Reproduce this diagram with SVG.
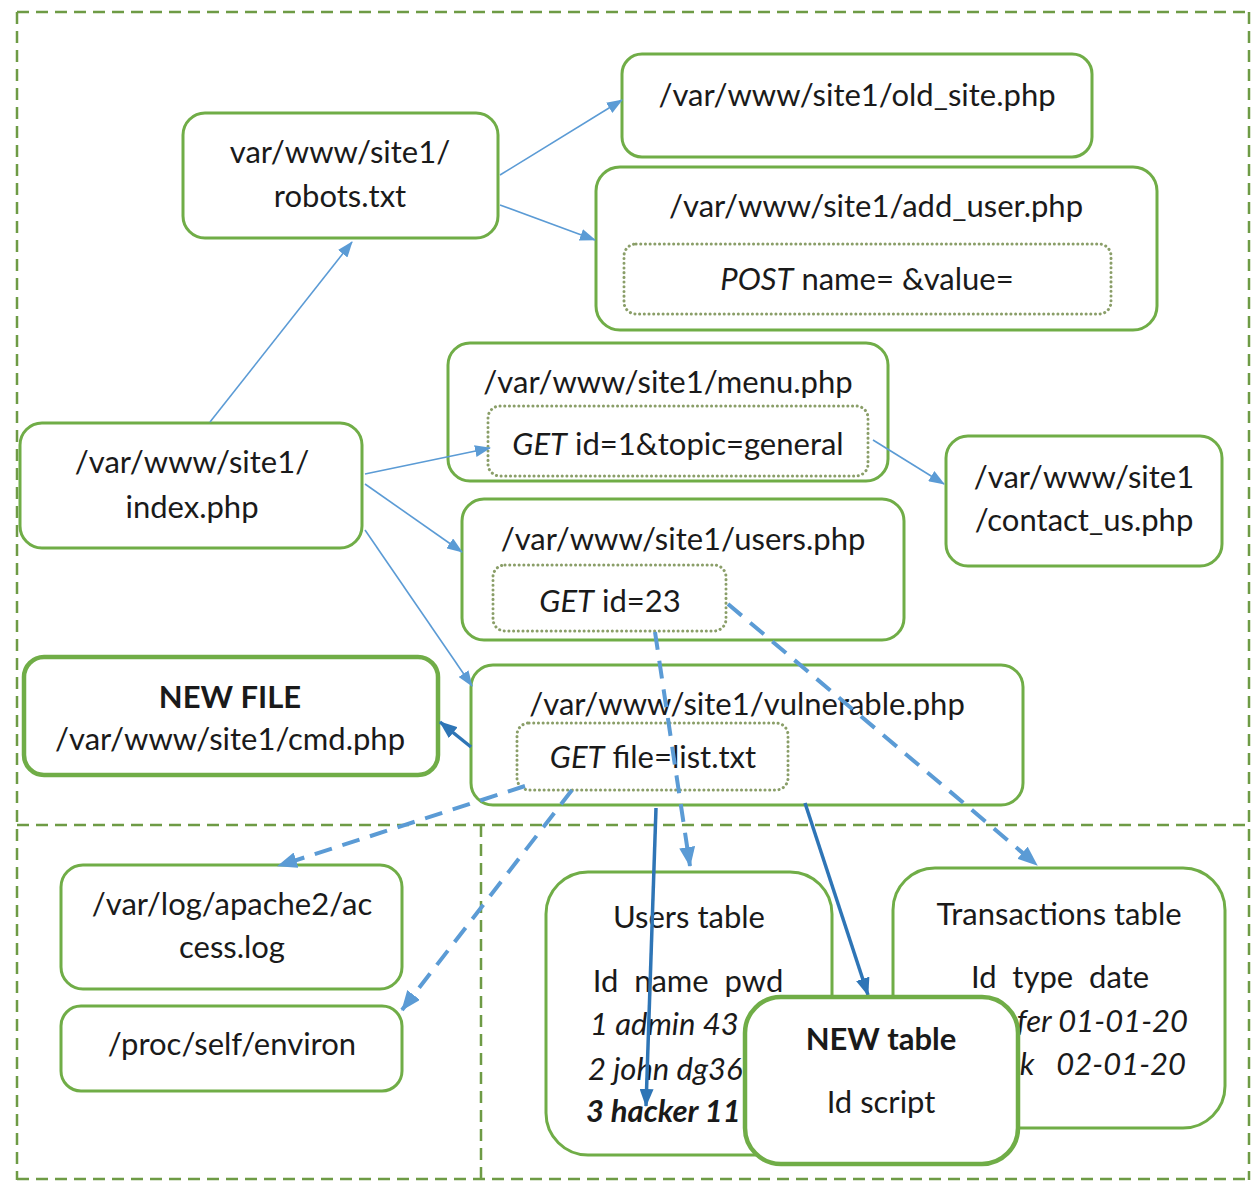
<svg xmlns="http://www.w3.org/2000/svg" width="1252" height="1182" viewBox="0 0 1252 1182">
<style>
  .bg { fill: #ffffff; }
  .frame { fill: none; stroke: #6E9B45; stroke-width: 2.5; stroke-dasharray: 12 7; }
  .node { fill: #ffffff; stroke: #70AD47; stroke-width: 3; }
  .bold-node { fill: #ffffff; stroke: #70AD47; stroke-width: 4.5; }
  .param { fill: #ffffff; stroke: #8A9E68; stroke-width: 3; stroke-dasharray: 0.1 4.6; stroke-linecap: round; }
  text { font-family: Lato, "Open Sans", "Liberation Sans", sans-serif; font-size: 31px; fill: #1a1a1a; text-anchor: middle; }
  .it { font-style: italic; }
  .b { font-weight: bold; }
  .thin { fill: none; stroke: #5B9BD5; stroke-width: 1.6; }
  .dash { fill: none; stroke: #5B9BD5; stroke-width: 4; stroke-dasharray: 18 11; }
  .thick { fill: none; stroke: #2E75B6; stroke-width: 3.5; }
</style>
<defs>
  <marker id="aThin" markerUnits="userSpaceOnUse" markerWidth="16" markerHeight="12" refX="15" refY="6" orient="auto">
    <path d="M0,0 L16,6 L0,12 z" fill="#5B9BD5"/>
  </marker>
  <marker id="aDash" markerUnits="userSpaceOnUse" markerWidth="20" markerHeight="16" refX="19" refY="8" orient="auto">
    <path d="M0,0 L20,8 L0,16 z" fill="#5B9BD5"/>
  </marker>
  <marker id="aThick" markerUnits="userSpaceOnUse" markerWidth="18" markerHeight="14" refX="17" refY="7" orient="auto">
    <path d="M0,0 L18,7 L0,14 z" fill="#2E75B6"/>
  </marker>
</defs>
<rect class="bg" x="0" y="0" width="1252" height="1182"/>

<g id="frame">
  <path class="frame" d="M17,12 H1252 M17,12 V1180 M1249,12 V1180 M17,825 H1252 M481,825 V1180 M17,1179 H1252"/>
</g>

<g id="nodes">
  <g id="robots">
    <rect class="node" x="183" y="113" width="315" height="125" rx="22"/>
    <text x="340" y="163">var/www/site1/</text>
    <text x="340" y="207">robots.txt</text>
  </g>
  <g id="old_site">
    <rect class="node" x="622" y="54" width="470" height="103" rx="20"/>
    <text x="857" y="106">/var/www/site1/old_site.php</text>
  </g>
  <g id="add_user">
    <rect class="node" x="596" y="167" width="561" height="163" rx="24"/>
    <text x="876" y="217">/var/www/site1/add_user.php</text>
    <rect class="param" x="624" y="244" width="487" height="70" rx="12"/>
    <text x="867" y="290"><tspan class="it">POST</tspan> name= &amp;value=</text>
  </g>
  <g id="menu">
    <rect class="node" x="448" y="343" width="440" height="138" rx="22"/>
    <text x="668" y="393">/var/www/site1/menu.php</text>
    <rect class="param" x="488" y="406" width="380" height="70" rx="12"/>
    <text x="678" y="455"><tspan class="it">GET</tspan> id=1&amp;topic=general</text>
  </g>
  <g id="contact_us">
    <rect class="node" x="946" y="436" width="276" height="130" rx="22"/>
    <text x="1084" y="488">/var/www/site1</text>
    <text x="1084" y="531">/contact_us.php</text>
  </g>
  <g id="index">
    <rect class="node" x="20" y="423" width="342" height="125" rx="22"/>
    <text x="192" y="473">/var/www/site1/</text>
    <text x="192" y="518">index.php</text>
  </g>
  <g id="users">
    <rect class="node" x="462" y="499" width="442" height="141" rx="22"/>
    <text x="683" y="550">/var/www/site1/users.php</text>
    <rect class="param" x="493" y="565" width="233" height="66" rx="12"/>
    <text x="610" y="612"><tspan class="it">GET</tspan> id=23</text>
  </g>
  <g id="vulnerable">
    <rect class="node" x="471" y="665" width="552" height="140" rx="22"/>
    <text x="747" y="715">/var/www/site1/vulnerable.php</text>
    <rect class="param" x="517" y="723" width="271" height="67" rx="12"/>
    <text x="653" y="768"><tspan class="it">GET</tspan> file=list.txt</text>
  </g>
  <g id="new_file">
    <rect class="bold-node" x="24" y="657" width="414" height="118" rx="20"/>
    <text x="230" y="708" class="b">NEW FILE</text>
    <text x="230" y="750">/var/www/site1/cmd.php</text>
  </g>
  <g id="access_log">
    <rect class="node" x="61" y="865" width="341" height="124" rx="22"/>
    <text x="232" y="915">/var/log/apache2/ac</text>
    <text x="232" y="958">cess.log</text>
  </g>
  <g id="environ">
    <rect class="node" x="61" y="1006" width="341" height="85" rx="20"/>
    <text x="232" y="1055">/proc/self/environ</text>
  </g>
  <g id="users_table">
    <rect class="node" x="546" y="872" width="286" height="283" rx="42"/>
    <text x="689" y="928">Users table</text>
    <text x="688" y="992" xml:space="preserve">Id  name  pwd</text>
    <text x="590" y="1035" class="it" style="text-anchor:start">1 admin 43</text>
    <text x="588" y="1080" class="it" style="text-anchor:start">2 john dg36</text>
    <text x="586" y="1122" class="it b" style="text-anchor:start">3 hacker 11</text>
  </g>
  <g id="transactions_table">
    <rect class="node" x="893" y="868" width="332" height="260" rx="42"/>
    <text x="1059" y="925">Transactions table</text>
    <text x="1060" y="988" xml:space="preserve">Id  type  date</text>
    <text x="1188" y="1032" class="it" style="text-anchor:end">fer 01-01-20</text>
    <text class="it"><tspan x="1027" y="1075">k</tspan><tspan x="1186" y="1075" style="text-anchor:end">02-01-20</tspan></text>
  </g>
</g>

<g id="connectors">
  <line class="thin" x1="210" y1="422" x2="352" y2="242" marker-end="url(#aThin)"/>
  <line class="thin" x1="500" y1="175" x2="622" y2="100" marker-end="url(#aThin)"/>
  <line class="thin" x1="500" y1="205" x2="595" y2="240" marker-end="url(#aThin)"/>
  <line class="thin" x1="365" y1="474" x2="490" y2="448" marker-end="url(#aThin)"/>
  <line class="thin" x1="365" y1="484" x2="462" y2="552" marker-end="url(#aThin)"/>
  <line class="thin" x1="365" y1="530" x2="472" y2="686" marker-end="url(#aThin)"/>
  <line class="thin" x1="873" y1="440" x2="944" y2="484" marker-end="url(#aThin)"/>
  <line class="thick" x1="471" y1="747" x2="440" y2="722" marker-end="url(#aThick)"/>
  <line class="dash" x1="655" y1="632" x2="690" y2="866" marker-end="url(#aDash)"/>
  <line class="dash" x1="728" y1="604" x2="1037" y2="865" marker-end="url(#aDash)"/>
  <line class="dash" x1="525" y1="786" x2="278" y2="866" marker-end="url(#aDash)"/>
  <line class="dash" x1="572" y1="790" x2="402" y2="1010" marker-end="url(#aDash)"/>
  <line class="thick" x1="656" y1="808" x2="646" y2="1106" marker-end="url(#aThick)"/>
  <line class="thick" x1="805" y1="803" x2="868" y2="995" marker-end="url(#aThick)"/>
</g>

<g id="new_table">
  <rect class="bold-node" x="745" y="997" width="273" height="167" rx="36"/>
  <text x="881" y="1050" class="b">NEW table</text>
  <text x="881" y="1113">Id script</text>
</g>
</svg>
